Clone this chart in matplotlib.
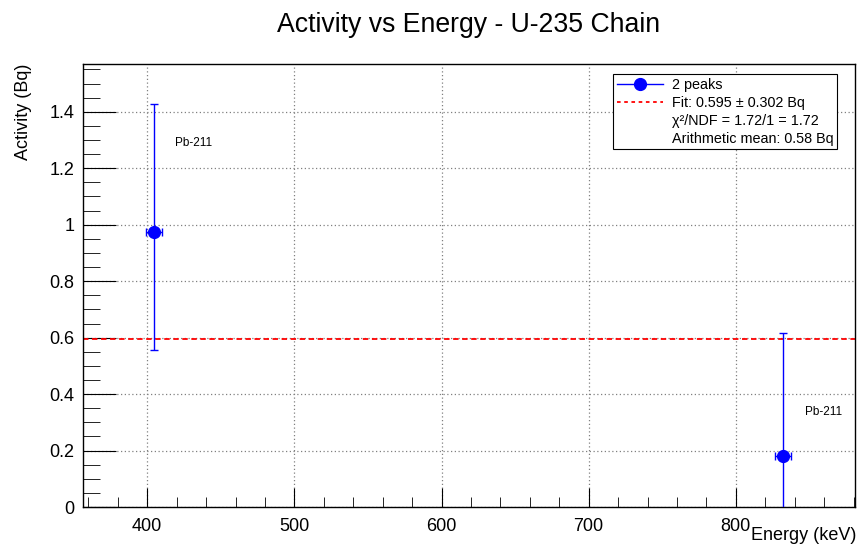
import matplotlib.pyplot as plt
from matplotlib.ticker import MultipleLocator
from matplotlib.lines import Line2D

plt.rcParams['font.family'] = ['Liberation Sans', 'DejaVu Sans']

# Peak energies (keV) and fitted activities (Bq) for the U-235 chain
energy = [404.85, 832.0]
energy_err = [5.5, 5.5]
activity = [0.975, 0.181]
activity_err_lo = [0.42, 0.437]
activity_err_hi = [0.452, 0.437]
peak_names = ['Pb-211', 'Pb-211']
label_pos = [(419.0, 1.29), (847.0, 0.335)]

fit_value = 0.595
fit_err = 0.302
chi2 = 1.72
ndf = 1
arith_mean = 0.58

fig = plt.figure(figsize=(8.58, 5.48), dpi=100)
ax = fig.add_axes([82.5/858, 1 - 507/548, (855 - 82.5)/858, (507 - 63.5)/548])

ax.errorbar(energy, activity, xerr=energy_err, yerr=[activity_err_lo, activity_err_hi],
            fmt='o', color='blue', ms=8.5, elinewidth=1, capsize=3, capthick=1, zorder=3)
ax.axhline(fit_value, color='red', ls=(0, (3, 2)), lw=1.3, zorder=2)

for name, (tx, ty) in zip(peak_names, label_pos):
    ax.text(tx, ty, name, fontsize=8.5, va='center', ha='left')

ax.set_xlim(356, 881)
ax.set_ylim(0, 1.571)
ax.xaxis.set_major_locator(MultipleLocator(100))
ax.xaxis.set_minor_locator(MultipleLocator(20))
ax.yaxis.set_major_locator(MultipleLocator(0.2))
ax.yaxis.set_minor_locator(MultipleLocator(0.05))
ax.yaxis.set_major_formatter(plt.FuncFormatter(lambda v, p: f'{v:g}'))
ax.tick_params(which='both', direction='in', top=False, right=False, labelsize=13)
ax.tick_params(axis='x', which='major', length=14, pad=8)
ax.tick_params(axis='x', which='minor', length=7)
ax.tick_params(axis='y', which='major', length=24, pad=6)
ax.tick_params(axis='y', which='minor', length=12)
ax.grid(True, which='major', color='gray', ls=(0, (1, 2)), lw=0.9)
for s in ax.spines.values():
    s.set_linewidth(1.0)

ax.set_xlabel('Energy (keV)', fontsize=13, loc='right')
ax.xaxis.set_label_coords(1.002, -0.045)
ax.set_ylabel('Activity (Bq)', fontsize=13, loc='top')
ax.yaxis.set_label_coords(-0.066, 1.0)

fig.suptitle('Activity vs Energy - U-235 Chain', fontsize=19.2, x=0.546, y=0.978)

handles = [
    Line2D([], [], color='blue', marker='o', ms=8.5, lw=1),
    Line2D([], [], color='red', ls=(0, (2, 2)), lw=1.3),
    Line2D([], [], color='none'),
    Line2D([], [], color='none'),
]
labels = [
    '2 peaks',
    f'Fit: {fit_value:.3f} ± {fit_err:.3f} Bq',
    f'χ²/NDF = {chi2:.2f}/{ndf} = {chi2 / ndf:.2f}',
    f'Arithmetic mean: {arith_mean:.2f} Bq',
]
leg = ax.legend(handles, labels, loc='upper right', bbox_to_anchor=(0.977, 0.976),
                fontsize=10.4, frameon=True, fancybox=False, framealpha=1,
                edgecolor='black', handlelength=3.2, handletextpad=0.6,
                borderpad=0.25, labelspacing=0.28, borderaxespad=0)
leg.get_frame().set_linewidth(0.8)

fig.savefig('out.png', dpi=100)
